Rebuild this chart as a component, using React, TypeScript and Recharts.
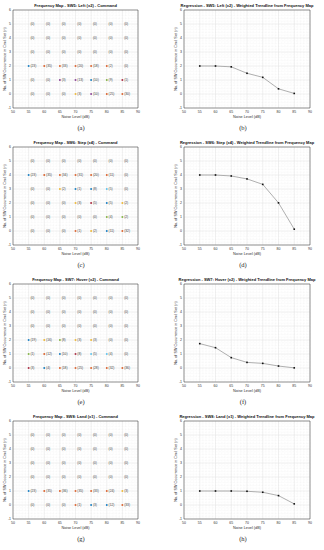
import {
  ScatterChart,
  Scatter,
  LineChart,
  Line,
  XAxis,
  YAxis,
  CartesianGrid,
  ReferenceArea,
} from "recharts";

const noiseLevels = [55, 60, 65, 70, 75, 80, 85];
const cmdLevels = [0, 1, 2, 3, 4, 5];
const xTicks = [50, 55, 60, 65, 70, 75, 80, 85, 90];
const yTicks = [-1, 0, 1, 2, 3, 4, 5, 6];

// counts, one row per cmd level (n = 0 .. 5), one entry per noise level
const sw5Counts = [
  [0, 0, 0, 3, 10, 25, 30],
  [0, 0, 3, 13, 10, 9, 1],
  [23, 35, 33, 20, 18, 2, 0],
  [0, 0, 0, 0, 0, 0, 0],
  [0, 0, 0, 0, 0, 0, 0],
  [0, 0, 0, 0, 0, 0, 0],
];
const sw6Counts = [
  [0, 0, 0, 1, 2, 11, 32],
  [0, 0, 0, 0, 0, 4, 2],
  [0, 0, 0, 3, 5, 5, 2],
  [0, 0, 2, 1, 8, 5, 0],
  [23, 35, 34, 31, 20, 11, 0],
  [0, 0, 0, 0, 0, 0, 0],
];
const sw7Counts = [
  [3, 4, 18, 25, 28, 32, 36],
  [1, 12, 10, 8, 5, 4, 0],
  [19, 16, 8, 3, 3, 0, 0],
  [0, 0, 0, 0, 0, 0, 0],
  [0, 0, 0, 0, 0, 0, 0],
  [0, 0, 0, 0, 0, 0, 0],
];
const sw8Counts = [
  [0, 0, 0, 1, 3, 12, 33],
  [23, 35, 36, 35, 33, 24, 3],
  [0, 0, 0, 0, 0, 0, 0],
  [0, 0, 0, 0, 0, 0, 0],
  [0, 0, 0, 0, 0, 0, 0],
  [0, 0, 0, 0, 0, 0, 0],
];

// marker colour codes, same layout as the counts ("-" = no marker)
const sw5Marks = ["---ypoo", "--ppbgr", "booooo-", "-------", "-------", "-------"];
const sw6Marks = ["---oybo", "-----gg", "---yrby", "--ybbc-", "booooo-", "-------"];
const sw7Marks = ["rbooooo", "gobrcc-", "bygyy--", "-------", "-------", "-------"];
const sw8Marks = ["---obbo", "boooooy", "-------", "-------", "-------", "-------"];

const sw5Trend = [2.0, 2.0, 1.94, 1.48, 1.19, 0.37, 0.04];
const sw6Trend = [4.0, 4.0, 3.93, 3.72, 3.33, 2.01, 0.13];
const sw7Trend = [1.74, 1.45, 0.74, 0.4, 0.33, 0.14, 0.01];
const sw8Trend = [1.0, 1.0, 1.0, 0.98, 0.91, 0.67, 0.08];

const palette: Record<string, string> = {
  b: "#0072BD",
  o: "#D95319",
  y: "#EDB120",
  p: "#7E2F8E",
  g: "#77AC30",
  c: "#4DBEEE",
  r: "#A2142F",
};

const minorX = Array.from({ length: 41 }, (_, i) => 50 + i);
const minorY = Array.from({ length: 36 }, (_, i) => -1 + i * 0.2);

const SANS = '"Liberation Sans", Arial, sans-serif';
const SERIF = '"Liberation Serif", "Times New Roman", serif';
const ROW_TOPS = [10, 147, 284, 421];
const PLOT_H = 98;
const CHART_H = 122;

function Texts({
  left,
  frameTop,
  plotL,
  plotR,
  yLabelX,
  title,
  caption,
}: {
  left: number;
  frameTop: number;
  plotL: number;
  plotR: number;
  yLabelX: number;
  title: string;
  caption: string;
}) {
  const cx = left + (plotL + plotR) / 2;
  return (
    <>
      <div
        style={{
          position: "absolute",
          left: cx - 100,
          width: 200,
          top: frameTop - 7,
          height: 6,
          lineHeight: "6px",
          fontSize: 4,
          fontWeight: "bold",
          textAlign: "center",
          whiteSpace: "nowrap",
          color: "#111",
        }}
      >
        {title}
      </div>
      <div
        style={{
          position: "absolute",
          left: left + yLabelX,
          top: frameTop + PLOT_H / 2,
          transform: "translate(-50%, -50%) rotate(-90deg)",
          fontSize: 3.8,
          whiteSpace: "nowrap",
          color: "#333",
        }}
      >
        No. of SW Occurrence in Cmd Set (n)
      </div>
      <div
        style={{
          position: "absolute",
          left: cx - 50,
          width: 100,
          top: frameTop + PLOT_H + 7,
          height: 5,
          lineHeight: "5px",
          fontSize: 3.8,
          textAlign: "center",
          color: "#333",
        }}
      >
        Noise Level (dB)
      </div>
      <div
        style={{
          position: "absolute",
          left: left + 81 - 30,
          width: 60,
          top: frameTop + 114,
          height: 8,
          lineHeight: "8px",
          fontFamily: SERIF,
          fontSize: 6.5,
          textAlign: "center",
          color: "#222",
        }}
      >
        {caption}
      </div>
    </>
  );
}

function Grid() {
  return (
    <>
      <CartesianGrid
        verticalValues={minorX}
        horizontalValues={minorY}
        stroke="#ececec"
        strokeWidth={0.4}
        strokeDasharray="0.6 0.8"
      />
      <CartesianGrid
        verticalValues={xTicks}
        horizontalValues={yTicks}
        stroke="#dedede"
        strokeWidth={0.4}
      />
    </>
  );
}

const axisTick = { fontSize: 3.5, fill: "#333", fontFamily: SANS };

function FreqPanel({
  left,
  row,
  title,
  caption,
  counts,
  marks,
}: {
  left: number;
  row: number;
  title: string;
  caption: string;
  counts: number[][];
  marks: string[];
}) {
  const frameTop = ROW_TOPS[row];
  const data = cmdLevels.flatMap((y, r) =>
    noiseLevels.map((x, c) => ({ x, y, n: counts[r][c], mark: marks[r][c] }))
  );
  const renderCell = (p: any) => {
    const { cx, cy, payload } = p;
    const color = payload.n > 0 ? palette[payload.mark] : undefined;
    return (
      <g>
        {color && <rect x={cx - 0.8} y={cy - 0.8} width={1.6} height={1.6} fill={color} />}
        <text x={cx + 1.8} y={cy} dy="0.35em" fontSize={3.3} fill="#444" fontFamily={SANS}>
          {`(${payload.n})`}
        </text>
      </g>
    );
  };
  return (
    <>
      <div style={{ position: "absolute", left, top: frameTop - 10 }}>
        <ScatterChart width={162} height={CHART_H} margin={{ top: 10, right: 24, bottom: 0, left: 0 }}>
          {Grid()}
          <XAxis
            type="number"
            dataKey="x"
            domain={[50, 90]}
            ticks={xTicks}
            interval={0}
            tickSize={0}
            tickMargin={3}
            axisLine={false}
            tick={axisTick}
            height={14}
          />
          <YAxis
            type="number"
            dataKey="y"
            domain={[-1, 6]}
            ticks={yTicks}
            interval={0}
            tickSize={0}
            tickMargin={2}
            axisLine={false}
            tick={axisTick}
            width={13}
          />
          <ReferenceArea x1={50} x2={90} y1={-1} y2={6} fill="none" fillOpacity={0} stroke="#333" strokeWidth={0.5} />
          <Scatter data={data} shape={renderCell} isAnimationActive={false} />
        </ScatterChart>
      </div>
      <Texts left={left} frameTop={frameTop} plotL={13} plotR={138} yLabelX={5} title={title} caption={caption} />
    </>
  );
}

function TrendPanel({
  left,
  row,
  title,
  caption,
  trend,
}: {
  left: number;
  row: number;
  title: string;
  caption: string;
  trend: number[];
}) {
  const frameTop = ROW_TOPS[row];
  const data = noiseLevels.map((x, i) => ({ x, v: trend[i] }));
  return (
    <>
      <div style={{ position: "absolute", left, top: frameTop - 10 }}>
        <LineChart width={162} height={CHART_H} data={data} margin={{ top: 10, right: 14, bottom: 0, left: 0 }}>
          {Grid()}
          <XAxis
            type="number"
            dataKey="x"
            domain={[50, 90]}
            ticks={xTicks}
            interval={0}
            tickSize={0}
            tickMargin={3}
            axisLine={false}
            tick={axisTick}
            height={14}
          />
          <YAxis
            type="number"
            domain={[-1, 6]}
            ticks={yTicks}
            interval={0}
            tickSize={0}
            tickMargin={2}
            axisLine={false}
            tick={axisTick}
            width={22}
          />
          <ReferenceArea x1={50} x2={90} y1={-1} y2={6} fill="none" fillOpacity={0} stroke="#333" strokeWidth={0.5} />
          <Line
            dataKey="v"
            stroke="#7a7a7a"
            strokeWidth={0.6}
            isAnimationActive={false}
            dot={(p: any) => (
              <rect key={`d${p.index}`} x={p.cx - 0.8} y={p.cy - 0.8} width={1.6} height={1.6} fill="#111" />
            )}
          />
        </LineChart>
      </div>
      <Texts left={left} frameTop={frameTop} plotL={22} plotR={148} yLabelX={14} title={title} caption={caption} />
    </>
  );
}

export default function App() {
  return (
    <div
      style={{
        position: "absolute",
        left: 0,
        top: 0,
        width: 324,
        height: 550,
        background: "#fff",
        fontFamily: SANS,
      }}
    >
      <FreqPanel left={0} row={0} title="Frequency Map - SW5: Left (x2) - Command" caption="(a)" counts={sw5Counts} marks={sw5Marks} />
      <TrendPanel left={162} row={0} title="Regression - SW5: Left (x2) - Weighted Trendline from Frequency Map" caption="(b)" trend={sw5Trend} />
      <FreqPanel left={0} row={1} title="Frequency Map - SW6: Step (x4) - Command" caption="(c)" counts={sw6Counts} marks={sw6Marks} />
      <TrendPanel left={162} row={1} title="Regression - SW6: Step (x4) - Weighted Trendline from Frequency Map" caption="(d)" trend={sw6Trend} />
      <FreqPanel left={0} row={2} title="Frequency Map - SW7: Hover (x2) - Command" caption="(e)" counts={sw7Counts} marks={sw7Marks} />
      <TrendPanel left={162} row={2} title="Regression - SW7:  Hover (x2) - Weighted Trendline from Frequency Map" caption="(f)" trend={sw7Trend} />
      <FreqPanel left={0} row={3} title="Frequency Map - SW8: Land (x1) - Command" caption="(g)" counts={sw8Counts} marks={sw8Marks} />
      <TrendPanel left={162} row={3} title="Regression - SW8: Land (x1) - Weighted Trendline from Frequency Map" caption="(h)" trend={sw8Trend} />
    </div>
  );
}
